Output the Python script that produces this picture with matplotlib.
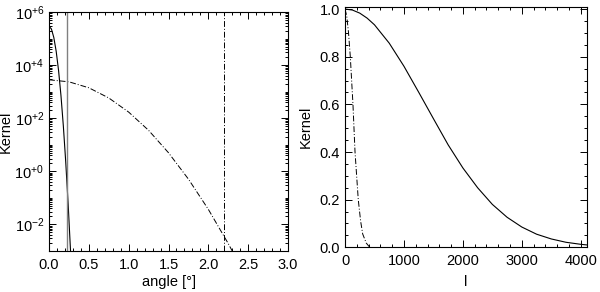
import numpy as np
import matplotlib
matplotlib.use("Agg")
import matplotlib.pyplot as plt
from matplotlib.ticker import FixedLocator, FixedFormatter, LogLocator, MultipleLocator, NullFormatter

plt.rcParams["font.family"] = ["Liberation Sans", "DejaVu Sans"]
plt.rcParams["mathtext.fontset"] = "custom"
plt.rcParams["mathtext.rm"] = "Liberation Sans"
plt.rcParams["mathtext.it"] = "Liberation Sans"
plt.rcParams["font.size"] = 10.5

# left panel: kernels in angle space
ang_narrow = [0.0, 0.03, 0.06, 0.09, 0.12, 0.15, 0.18, 0.21, 0.24, 0.27]
k_narrow = [2.9e5, 2.3e5, 1.1e5, 3.3e4, 6.2e3, 7.1e2, 5.0e1, 2.2e0, 6.0e-2, 1.0e-3]
ang_broad = [0.0, 0.25, 0.5, 0.75, 1.0, 1.25, 1.5, 1.75, 2.0, 2.25, 2.3]
k_broad = [2.8e3, 2.35e3, 1.4e3, 5.8e2, 1.7e2, 3.5e1, 5.0e0, 5.1e-1, 3.7e-2, 1.9e-3, 1.0e-3]
cut_narrow = 0.22
cut_broad = 2.2

# right panel: kernels in multipole space
l_narrow = [0, 125, 250, 375, 500, 750, 1000, 1250, 1500, 1750, 2000, 2250, 2500, 2750,
            3000, 3250, 3500, 3750, 4000, 4100]
w_narrow = [1.0, 0.996, 0.983, 0.962, 0.934, 0.857, 0.76, 0.651, 0.54, 0.43, 0.333, 0.25,
            0.18, 0.126, 0.085, 0.055, 0.035, 0.021, 0.0125, 0.01]
l_broad = [0, 30, 60, 90, 135, 170, 225, 265, 300, 360, 420]
w_broad = [1.0, 0.97, 0.90, 0.80, 0.60, 0.40, 0.20, 0.11, 0.056, 0.018, 0.0]

log_ticks = [1e-2, 1e0, 1e2, 1e4, 1e6]
log_labels = [r"$10^{-2}$", r"$10^{+0}$", r"$10^{+2}$", r"$10^{+4}$", r"$10^{+6}$"]

dashdot = (0, (6, 2, 1, 2))

fig = plt.figure(figsize=(6.0, 2.92), dpi=100)
ax1 = fig.add_axes([0.0817, 0.1404, 0.3983, 0.8185])
ax2 = fig.add_axes([0.575, 0.1531, 0.4028, 0.824])

# left
ax1.plot(ang_narrow, k_narrow, color="black", lw=0.8)
ax1.plot(ang_broad, k_broad, color="black", lw=0.7, linestyle=dashdot)
ax1.axvline(cut_narrow, color="#808080", lw=1.0)
ax1.axvline(cut_broad, color="black", lw=0.7, linestyle=dashdot)
ax1.set_yscale("log")
ax1.set_xlim(0, 3)
ax1.set_ylim(1e-3, 1e6)
ax1.yaxis.set_major_locator(FixedLocator(log_ticks))
ax1.yaxis.set_major_formatter(FixedFormatter(log_labels))
ax1.yaxis.set_minor_locator(LogLocator(base=10, subs=np.arange(1, 10), numticks=100))
ax1.yaxis.set_minor_formatter(NullFormatter())
ax1.xaxis.set_major_locator(MultipleLocator(0.5))
ax1.xaxis.set_minor_locator(MultipleLocator(0.1))
ax1.xaxis.set_major_formatter(matplotlib.ticker.FormatStrFormatter("%.1f"))
ax1.set_xlabel("angle [°]", labelpad=2)
ax1.set_ylabel("Kernel", labelpad=1)

# right
ax2.plot(l_narrow, w_narrow, color="black", lw=0.8)
ax2.plot(l_broad, w_broad, color="black", lw=0.7, linestyle=dashdot)
ax2.set_xlim(0, 4100)
ax2.set_ylim(0, 1.01)
ax2.xaxis.set_major_locator(MultipleLocator(1000))
ax2.xaxis.set_minor_locator(MultipleLocator(200))
ax2.yaxis.set_major_locator(MultipleLocator(0.2))
ax2.yaxis.set_minor_locator(MultipleLocator(0.05))
ax2.yaxis.set_major_formatter(matplotlib.ticker.FormatStrFormatter("%.1f"))
ax2.set_xlabel("l", labelpad=5)
ax2.set_ylabel("Kernel", labelpad=5)

for ax in (ax1, ax2):
    ax.tick_params(which="both", direction="in", top=True, right=True, width=0.7)
    ax.tick_params(which="major", length=5)
    ax.tick_params(which="minor", length=2.5)
    ax.tick_params(axis="x", pad=5)
    for s in ax.spines.values():
        s.set_linewidth(0.8)

fig.savefig("out.png", dpi=100)
